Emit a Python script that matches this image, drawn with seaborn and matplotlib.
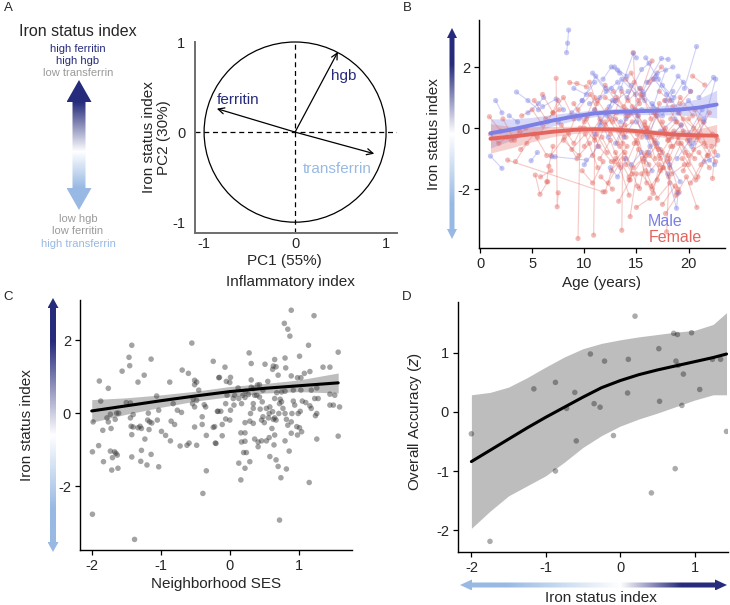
import matplotlib
matplotlib.use("Agg")
import matplotlib.pyplot as plt
import numpy as np
import pandas as pd
import seaborn as sns
from matplotlib.colors import LinearSegmentedColormap
from matplotlib.patches import Circle, Polygon

NAVY = "#262b7c"
LIGHT = "#98b9e3"
MALE = "#7b7fe6"
FEMALE = "#e3655e"

# ---- panel A: PCA loadings
pca_vars = ["hgb", "ferritin", "transferrin"]
pca_pc1 = [0.47, -0.86, 0.87]
pca_pc2 = [0.89, 0.26, -0.24]

# ---- panel B: repeated measures by subject (age, iron status index)
male_ages = [[8.3, 8.4, 8.5], [1.5, 2.1], [1.0, 2.1], [3.5, 4.6, 5.6], [4.6, 5.6, 6.1],
             [6.0, 7.3, 8.0], [6.9, 7.2, 10.2], [4.9, 5.5], [9.0, 10.2, 11.0],
             [10.5, 11.5, 12.6], [11.8, 12.6, 13.4], [12.2, 13.0, 14.2], [13.5, 14.7, 15.0],
             [14.1, 15.5, 16.2], [15.6, 17.4, 18.05], [16.0, 17.0, 18.5], [17.5, 18.6, 19.5],
             [19.6, 20.77], [21.0, 22.4], [22.0, 22.5], [17.0, 18.2, 19.2], [18.0, 18.85, 19.0],
             [15.0, 16.0, 17.0], [13.0, 14.0, 15.5], [11.0, 12.0, 13.5], [9.5, 11.0, 12.3],
             [10.0, 11.3], [14.5, 15.5, 16.5], [19.0, 20.0, 21.5], [20.5, 21.5, 22.6],
             [12.5, 13.2, 14.0], [16.5, 17.5, 18.5], [7.5, 8.8, 9.8], [2.8, 3.6],
             [18.5, 19.3, 20.3], [21.5, 22.8],
             [10.8, 12.1, 13.2], [12.4, 13.6, 14.9], [13.2, 14.5, 15.8], [14.4, 15.7, 16.9],
             [15.3, 16.6, 17.8], [16.7, 17.9, 19.1], [17.8, 19.0, 20.2], [11.5, 12.7, 14.0],
             [13.8, 15.1, 16.3], [16.2, 17.3, 18.7], [18.9, 20.1], [9.8, 11.1, 12.1],
             [12.9, 14.1], [15.9, 17.1, 18.4], [20.0, 21.3]]
male_iron = [[2.47, 2.78, 3.21], [0.9, 0.5], [-0.92, -1.32], [1.18, 0.9, 0.6], [0.5, 0.8, 1.0],
             [0.7, 0.95, 0.6], [-0.94, -0.94, -1.05], [-1.07, -0.8], [1.3, 1.1, 1.5],
             [0.8, 1.0, 1.3], [1.6, 2.0, 1.8], [0.4, 0.9, 1.2], [1.3, 2.45, 2.3],
             [1.0, 1.92, 2.12], [1.2, 2.28, 2.25], [1.5, 1.8, 2.0], [1.4, 1.0, 1.5],
             [1.3, 2.67], [1.0, 1.66], [-1.05, -1.2], [-0.5, -1.2, -1.76], [-1.5, -2.63, -2.14],
             [0.2, -0.3, 0.4], [-0.5, 0.3, 0.6], [-0.2, 0.5, 0.2], [0.3, 0.6, -0.3],
             [-1.2, -0.6], [-1.2, -0.8, -1.4], [0.5, 0.9, 0.3], [-0.5, 0.2, 1.6],
             [-1.3, -1.6, -1.0], [0.8, 0.4, 1.2], [0.2, 0.5, 0.9], [0.4, 0.2],
             [-0.2, 0.1, -0.6], [-1.1, -0.9],
             [1.8, 1.2, 1.5], [0.7, 1.6, 1.1], [1.9, 1.4, 0.9], [0.5, 1.1, 1.7],
             [1.3, 0.7, 1.9], [1.6, 1.1, 0.6], [0.9, 1.7, 1.2], [0.1, 0.9, 0.5],
             [-0.3, 0.4, -0.6], [-0.8, -0.1, 0.3], [-1.0, -0.4], [0.9, 1.7, 1.3],
             [2.0, 1.7], [2.3, 1.6, 0.9], [-0.2, 0.6]]
female_ages = [[0.9, 2.0], [7.3, 7.4, 7.5], [5.3, 5.75, 6.5], [2.65, 11.8], [3.4, 4.5],
               [9.4, 9.6], [10.9, 11.0], [6.4, 6.6, 7.0], [8.6, 9.3, 10.2], [14.7, 15.0, 15.5],
               [20.4, 21.56], [13.6, 13.7], [14.4, 15.0], [17.9, 18.2], [16.6, 17.2],
               [15.3, 16.0], [12.0, 13.0], [22.3, 22.5, 22.7], [4.0, 5.0, 6.0], [5.5, 6.5, 7.5],
               [7.0, 8.0, 9.0], [8.0, 9.5, 10.5], [9.0, 10.0, 11.0], [10.0, 11.5, 12.5],
               [11.0, 12.0, 13.0], [11.5, 12.5, 13.5], [12.0, 13.2, 14.0], [12.8, 13.8, 14.8],
               [13.0, 14.3, 15.2], [13.5, 14.5, 15.8], [14.0, 15.0, 16.0], [14.2, 15.4, 16.4],
               [14.8, 15.8, 16.8], [15.2, 16.2, 17.2], [15.5, 16.5, 17.5], [16.0, 17.0, 18.0],
               [16.3, 17.3, 18.3], [16.8, 17.8, 18.8], [17.0, 18.0, 19.0], [17.5, 18.5, 19.5],
               [18.0, 19.0, 20.0], [18.5, 19.5, 20.5], [19.0, 20.0, 21.0], [19.5, 20.5, 21.5],
               [20.0, 21.0, 22.0], [10.5, 11.2], [12.3, 13.3, 14.3], [9.8, 10.8, 11.8],
               [8.5, 9.2], [3.0, 3.8], [1.0, 1.8, 2.6], [5.8, 6.8], [6.0, 7.0],
               [14.5, 15.6, 16.6], [17.2, 18.2], [18.8, 19.8, 20.8], [15.0, 16.3], [11.2, 12.2],
               [13.0, 14.0], [15.8, 16.8, 17.8], [16.5, 17.5], [19.2, 20.2], [21.0, 22.0],
               [20.2, 21.2, 22.2], [17.5, 18.7], [12.0, 14.0], [10.0, 11.0], [13.8, 14.6],
               [10.2, 11.4, 12.6], [10.8, 12.0, 13.1], [11.3, 12.4, 13.7], [11.7, 12.9, 14.1],
               [12.2, 13.4, 14.6], [12.6, 13.9, 15.1], [13.1, 14.2, 15.3], [13.4, 14.7, 15.9],
               [13.9, 15.1, 16.2], [14.3, 15.6, 16.7], [14.6, 15.9, 17.1], [15.1, 16.1, 17.3],
               [15.4, 16.6, 17.7], [15.7, 16.9, 18.1], [16.1, 17.2, 18.4], [16.4, 17.6, 18.9],
               [16.9, 18.1, 19.3], [17.3, 18.4, 19.6], [17.7, 18.9, 20.1], [18.2, 19.3, 20.6],
               [18.6, 19.7, 20.9], [19.1, 20.3, 21.4], [19.4, 20.7, 21.8], [19.9, 21.1, 22.3],
               [20.6, 21.7, 22.6], [9.4, 10.6, 11.6], [8.8, 10.1, 11.3], [7.8, 9.0, 10.3],
               [6.8, 8.1, 9.3], [5.2, 6.3, 7.6], [3.9, 5.2, 6.4], [2.2, 3.3, 4.4],
               [14.0, 15.2, 16.5], [16.2, 17.4], [13.3, 14.4], [17.8, 19.1],
               [12.7, 13.6, 14.9], [15.9, 17.0, 18.2], [18.3, 19.2, 20.4], [11.6, 12.7],
               [20.8, 21.9, 22.8]]
female_iron = [[0.37, -0.1], [1.63, -2.58, -2.12], [-1.54, -2.17, -1.76], [-1.05, -2.09], [-1.1, -0.5],
               [-3.62, 0.0], [-3.51, -0.3], [-1.76, -1.25, -0.6], [1.49, 1.46, 1.35], [2.47, 0.5, -0.3],
               [1.70, 1.41], [-3.35, -0.2], [-2.9, -1.5], [-3.4, -1.0], [-2.14, -1.2],
               [-1.98, -0.8], [-2.09, -1.0], [-1.65, -0.78, -0.3], [0.4, 0.6, 0.1], [-0.3, 0.2, 0.9],
               [0.5, 1.0, 0.3], [-0.4, -0.9, -0.5], [0.8, 0.2, 1.0], [-0.6, 0.3, -0.2],
               [0.6, 1.4, 0.9], [-1.0, -0.4, -1.3], [0.2, -0.5, 0.4], [1.2, 0.7, 1.5],
               [-0.8, -1.6, -0.7], [0.0, 0.5, -0.2], [-1.2, -0.4, -1.8], [0.9, 1.3, 0.3],
               [-0.5, 0.1, -1.0], [0.4, -0.3, 0.8], [-1.5, -2.0, -1.3], [-0.1, 0.6, -0.4],
               [-0.9, -1.4, -0.6], [0.5, -0.2, 0.2], [-1.7, -0.9, -2.0], [0.2, -0.6, -0.1],
               [-1.1, -0.3, -0.9], [0.7, 0.3, 0.0], [-0.5, -1.2, -0.3], [-1.4, -0.7, -0.5],
               [0.3, -0.2, 0.5], [1.5, 0.8], [-1.8, -1.2, -2.2], [-1.4, -1.8, -1.1],
               [-0.2, 0.4], [-0.4, -0.1], [-0.2, -0.5, -0.3], [-1.6, -1.4], [1.1, 0.5],
               [1.8, 1.0, 1.6], [1.2, 0.9], [-2.2, -1.6, -2.6], [-2.6, -2.3], [-0.2, -0.8],
               [0.3, -0.3], [0.2, -0.5, 0.0], [-0.3, -0.8], [0.8, 1.2], [-0.8, -1.3],
               [-1.8, -1.2, -0.6], [-2.5, -1.9], [1.0, 0.6], [0.0, -0.4], [-1.0, -1.5],
               [0.3, -0.6, -1.1], [-0.9, 0.1, 0.5], [0.9, 0.3, -0.5], [-0.3, -1.1, -0.6],
               [0.6, -0.1, 0.2], [-1.4, -0.8, -1.9], [1.0, 0.4, 0.8], [-0.6, -1.3, -0.9],
               [0.1, -0.5, -1.2], [-1.7, -1.0, -0.4], [0.7, 0.0, -0.7], [-0.2, -1.5, -1.0],
               [1.1, 0.5, -0.1], [-1.1, -0.6, -1.6], [0.0, -0.9, -0.3], [-1.9, -1.3, -2.1],
               [0.4, -0.4, 0.1], [-0.7, -1.5, -1.2], [0.9, 0.2, -0.5], [-1.3, -0.5, -1.0],
               [-0.1, -0.8, -1.6], [0.5, -0.3, 0.2], [-1.0, -1.7, -0.9], [-0.4, 0.3, -0.2],
               [0.6, -0.6, -1.1], [0.6, 1.1, 0.2], [-0.7, -0.2, -1.3], [0.1, -0.5, 0.4],
               [-0.9, -0.3, -1.0], [0.9, 0.3, 0.6], [-0.7, -0.2, -0.9], [0.3, -0.4, 0.0],
               [1.6, 0.9, 2.2], [1.5, 2.0], [-2.4, -1.7], [-2.8, -2.1],
               [0.2, 1.2, 0.6], [-1.4, -2.3, -1.8], [0.3, 1.0, 0.4], [-1.6, -2.0],
               [-0.3, -0.9, -0.4]]

# smooth fits
fit_age = [1, 3, 5, 7, 9, 11, 13, 15, 17, 19, 21, 22.7]
male_fit = [-0.17, -0.05, 0.10, 0.25, 0.38, 0.48, 0.53, 0.55, 0.57, 0.60, 0.67, 0.77]
male_lo = [-0.65, -0.40, -0.15, 0.07, 0.25, 0.37, 0.43, 0.44, 0.44, 0.42, 0.40, 0.33]
male_hi = [0.30, 0.30, 0.35, 0.45, 0.52, 0.60, 0.64, 0.67, 0.72, 0.80, 0.97, 1.24]
female_fit = [-0.35, -0.28, -0.20, -0.12, -0.06, -0.04, -0.05, -0.10, -0.17, -0.22, -0.24, -0.25]
female_lo = [-0.82, -0.65, -0.45, -0.28, -0.18, -0.14, -0.14, -0.19, -0.28, -0.36, -0.46, -0.60]
female_hi = [0.14, 0.05, 0.05, 0.05, 0.06, 0.06, 0.04, -0.01, -0.06, -0.08, -0.02, 0.12]

# ---- panel C: neighborhood SES vs iron status
ses_x = [-1.42, -1.46, -1.45, -1.14, -1.56, -1.89, -1.76, -1.24, -1.33, -1.87, -1.98, -1.84,
         -1.78, -1.72, -1.73, -1.64, -1.76, -1.66, -1.61, -1.50, -1.44, -1.40, -1.44, -1.43,
         -1.42, -1.40, -1.30, -1.28, -1.33, -1.23, -1.17, -1.18, -1.19, -1.16, -1.13, -1.06,
         -1.05, -1.03, -0.99, -0.93, -0.87, -0.86, -0.85, -0.80, -0.82, -0.76, -0.70, -0.72,
         -0.69, -0.60, -0.62, -0.59, -0.55, -0.51, -0.51, -0.48, -0.45, -0.54, -0.51, -0.48,
         -0.53, -0.37, -0.35, -0.40, -0.40, -0.51, -0.48, -0.34, -0.34, -0.39, -0.24, -0.21,
         -0.24, -0.17, -1.99, -1.90, -1.83, -1.73, -1.67, -1.65, -1.63, -1.70, -1.71, -1.62,
         -1.42, -1.28, -1.29, -1.20, -1.14, -1.03, -1.99, -1.38, -0.16,
         0.89, 1.22, 0.79, 0.84, 0.87, 1.14, 1.57, 0.28, 1.01, 0.80, 0.65, 0.31, 0.51, -0.07,
         0.63, 0.67, 0.62, 0.81, 1.16, 1.35, 1.45, 1.08, 0.70, 0.89, 0.98, 1.03, -0.15, 0.01,
         0.31, -0.05, 0.00, 0.40, 0.55, 0.43, 0.12, 0.23, 0.31, 0.34, 0.48, 0.68, 0.75, 0.80,
         0.92, 1.03, 1.18, 1.26, 1.45, 1.52, -0.04, 0.07, 0.19, 0.27, 0.36, 0.05, 0.13, 0.22,
         0.43, 0.73, 0.92, 1.05, 1.23, 1.28, -0.06, 0.06, 0.17, 0.34, 0.47, 0.58, 0.72, 0.77,
         0.94, 1.10, 1.16, 1.18, 1.45, 1.50, 1.59, -0.18, -0.13, 0.01, 0.30, 0.34, 0.44, 0.53,
         0.57, 0.62, 0.65, 0.71, 0.80, 0.90, 0.99, 1.02, 1.24, 1.26, -0.06, 0.00, 0.22, 0.29,
         0.34, 0.46, 0.50, 0.56, 0.63, 0.67, 0.82, 0.84, 0.89, 0.97, 1.01, -0.22, -0.11, -0.20,
         -0.11, 0.16, 0.22, 0.17, 0.22, 0.36, 0.41, 0.46, 0.53, 0.57, 0.61, 0.65, 0.80, 0.89,
         0.98, 1.04, 1.26, 1.57, 0.41, 0.64, 0.20, 0.24, 0.29, 0.13, 0.22, 0.58, 0.67, 0.70,
         0.82, 0.86, 0.74, 1.15, 0.16, 0.72, 0.48, 0.39, 0.65, 0.75]
ses_iron = [1.86, 1.53, 1.30, 1.48, 1.15, 0.88, 0.68, 1.04, 0.85, 0.33, -0.24, -0.47,
            -0.13, -0.42, -0.03, 0.00, -0.24, -0.17, 0.00, 0.29, 0.28, -0.04, -0.13, -0.36,
            -0.59, -0.38, -0.36, -0.42, -0.40, -0.71, -0.45, 0.00, -0.19, -0.24, -0.27, 0.47,
            -0.19, 0.08, -0.50, -0.61, 0.85, -0.76, -0.22, -0.31, 0.26, 0.08, 0.02, -0.90,
            1.18, 1.09, -0.88, -0.82, 1.92, 0.90, 0.78, 0.85, 0.63, 0.26, 0.17, 0.35,
            0.39, 0.23, 0.17, -0.10, -0.31, -0.38, -0.88, -0.61, -1.58, -2.20, -0.39, -0.82,
            1.42, 0.05, -1.06, -0.89, -1.33, -1.04, -1.06, -1.10, -1.15, -1.22, -1.56, -1.51,
            -1.20, -1.02, -1.32, -1.42, -1.13, -1.47, -2.77, -3.46, 0.97,
            2.82, 2.67, 2.46, 2.30, 2.11, 1.86, 1.67, 1.65, 1.56, 1.51, 1.47, 1.36, 1.34, 1.26,
            1.29, 1.27, 1.20, 1.24, 1.14, 1.26, 1.26, 1.09, 1.04, 1.02, 0.97, 0.97, 0.98, 0.98,
            0.91, 0.87, 0.84, 0.77, 0.87, 0.78, 0.69, 0.60, 0.71, 0.67, 0.63, 0.56, 0.58, 0.60,
            0.63, 0.63, 0.63, 0.69, 0.52, 0.49, 0.49, 0.49, 0.49, 0.51, 0.49, 0.40, 0.40, 0.43,
            0.44, 0.38, 0.33, 0.33, 0.40, 0.40, 0.26, 0.22, 0.26, 0.26, 0.31, 0.17, 0.26, 0.13,
            0.22, 0.29, 0.20, 0.13, 0.22, 0.22, 0.17, 0.05, 0.05, 0.08, -0.01, 0.13, 0.11, 0.13,
            -0.01, 0.04, -0.13, -0.01, -0.01, -0.01, -0.01, 0.05, -0.07, -0.01, -0.16, -0.19, -0.26, -0.22,
            -0.28, -0.19, -0.26, -0.13, -0.17, -0.19, -0.17, -0.33, -0.24, -0.37, -0.40, -0.37, -0.31, -0.83,
            -0.62, -0.54, -0.54, -0.79, -0.77, -0.71, -0.79, -0.76, -0.76, -0.67, -0.42, -0.60, -0.76, -0.55,
            -0.60, -0.51, -0.71, -0.63, -0.92, -0.87, -1.08, -1.08, -1.33, -1.37, -1.51, -1.19, -1.28, -1.46,
            -1.53, -1.04, -1.77, -1.90, -1.83, -2.93, -0.10, 0.49, 0.40, 0.31]
ses_grid = [-2, -1.5, -1, -0.5, 0, 0.5, 1, 1.57]
ses_fit = [0.06, 0.20, 0.34, 0.47, 0.59, 0.68, 0.75, 0.83]
ses_lo = [-0.25, -0.03, 0.16, 0.33, 0.45, 0.55, 0.59, 0.55]
ses_hi = [0.37, 0.42, 0.50, 0.60, 0.73, 0.81, 0.91, 1.10]

# ---- panel D: iron status vs overall accuracy
acc_iron = [-2.00, -1.75, -1.16, -0.87, -0.87, -0.72, -0.61, -0.59, -0.40, -0.35, -0.27,
            -0.21, -0.09, 0.10, 0.11, 0.20, 0.42, 0.52, 0.53, 0.72, 0.77, 0.75, 0.74, 0.78,
            0.85, 0.83, 0.96, 1.07, 1.24, 1.35, 1.43]
acc_z = [-0.37, -2.19, 0.39, 0.50, -1.00, 0.06, 0.33, -0.49, 0.98, 0.14, 0.08,
         0.86, -0.40, 0.32, 0.89, 1.62, -1.37, 1.07, 0.18, 1.33, 1.31, 0.86, -0.96, 0.79,
         0.64, 0.11, 1.34, 0.38, 0.89, 0.89, -0.33]
acc_grid = [-2, -1.75, -1.5, -1.25, -1, -0.75, -0.5, -0.25, 0, 0.25, 0.5, 0.75, 1, 1.25, 1.43]
acc_fit = [-0.84, -0.65, -0.46, -0.27, -0.09, 0.08, 0.25, 0.41, 0.53, 0.63, 0.71, 0.78, 0.85, 0.92, 0.98]
acc_lo = [-1.97, -1.68, -1.42, -1.25, -1.08, -0.85, -0.60, -0.40, -0.24, -0.12, -0.02, 0.09, 0.20, 0.29, 0.29]
acc_hi = [0.29, 0.33, 0.42, 0.58, 0.76, 0.93, 1.07, 1.16, 1.22, 1.27, 1.31, 1.35, 1.38, 1.48, 1.68]


sns.set_style("ticks")
plt.rcParams["font.family"] = ["Liberation Sans", "DejaVu Sans"]
plt.rcParams["axes.unicode_minus"] = False

W, H = 730, 605
fig = plt.figure(figsize=(7.3, 6.05), dpi=100)


def box(x0, y0, x1, y1):
    # pixel box -> figure fraction rect
    return [x0 / W, 1 - y1 / H, (x1 - x0) / W, (y1 - y0) / H]


def style_axes(ax):
    sns.despine(ax=ax)
    for s in ["left", "bottom"]:
        ax.spines[s].set_linewidth(1.0)
        ax.spines[s].set_color("black")
    ax.tick_params(labelsize=10.5, length=3.5, width=0.9, color="black", pad=3)


# ---------- A
axA = fig.add_axes(box(195, 42, 397, 233))
axA.set_xlim(-1.1, 1.12)
axA.set_ylim(-1.12, 0.98)
axA.add_patch(Circle((0, 0), 1.0, fill=False, lw=0.9, color="black", clip_on=False))
axA.axhline(0, ls=(0, (4, 3)), lw=0.9, color="black")
axA.plot([0, 0], [-1.12, 1.0], ls=(0, (4, 3)), lw=0.9, color="black", clip_on=False)
for x, y in zip(pca_pc1, pca_pc2):
    axA.annotate("", xy=(x, y), xytext=(0, 0),
                 arrowprops=dict(arrowstyle="->", lw=0.9, color="black", mutation_scale=11,
                                 shrinkA=0, shrinkB=0))
axA.text(0.53, 0.62, pca_vars[0], color=NAVY, fontsize=11, ha="center", va="center")
axA.text(-0.63, 0.36, pca_vars[1], color=NAVY, fontsize=11, ha="center", va="center")
axA.text(0.46, -0.41, pca_vars[2], color=LIGHT, fontsize=11, ha="center", va="center")
sns.despine(ax=axA)
for s in ["left", "bottom"]:
    axA.spines[s].set_color("#6e6e6e")
    axA.spines[s].set_linewidth(1.4)
axA.set_xticks([-1, 0, 1])
axA.set_yticks([-1, 0, 1])
axA.tick_params(axis="y", length=0, labelsize=10.5, pad=7)
axA.tick_params(axis="x", length=0, labelsize=10.5, pad=3)
axA.set_ylabel("Iron status index\nPC2 (30%)", fontsize=11, linespacing=1.1)
axA.yaxis.set_label_coords(-0.12, 0.5)
axA.set_xlabel("PC1 (55%)", fontsize=11)
axA.xaxis.set_label_coords(0.44, -0.112)
fig.text(290 / W, 1 - 282 / H, "Inflammatory index", fontsize=11, ha="center", va="center")

fig.text(78 / W, 1 - 31 / H, "Iron status index", fontsize=11.5, ha="center", va="center")
for txt, yy, col in [("high ferritin", 49, NAVY), ("high hgb", 61, NAVY), ("low transferrin", 73, "#9a9a9a"),
                     ("low hgb", 219, "#9a9a9a"), ("low ferritin", 231, "#9a9a9a"),
                     ("high transferrin", 244, LIGHT)]:
    fig.text(78 / W, 1 - yy / H, txt, fontsize=8, color=col, ha="center", va="center")

# ---------- B
axB = fig.add_axes(box(479, 20, 725, 248))
rows = []
for i, (ages, vals) in enumerate(zip(female_ages, female_iron)):
    for a, v in zip(ages, vals):
        rows.append(("f%d" % i, "Female", a, v))
for i, (ages, vals) in enumerate(zip(male_ages, male_iron)):
    for a, v in zip(ages, vals):
        rows.append(("m%d" % i, "Male", a, v))
df_b = pd.DataFrame(rows, columns=["id", "sex", "age", "iron"])
pal = {"Male": MALE, "Female": FEMALE}
sns.lineplot(data=df_b, x="age", y="iron", hue="sex", units="id", estimator=None,
             palette=pal, lw=0.8, alpha=0.35, legend=False, ax=axB)
sns.scatterplot(data=df_b, x="age", y="iron", hue="sex", palette=pal, s=14, alpha=0.45,
                edgecolor="none", legend=False, ax=axB)
axB.fill_between(fit_age, male_lo, male_hi, color=MALE, alpha=0.3, lw=0)
axB.fill_between(fit_age, female_lo, female_hi, color=FEMALE, alpha=0.3, lw=0)
sns.lineplot(x=fit_age, y=male_fit, color=MALE, lw=2.8, ax=axB)
sns.lineplot(x=fit_age, y=female_fit, color=FEMALE, lw=2.8, ax=axB)
axB.text(17.8, -3.05, "Male", color=MALE, fontsize=11.5, ha="center", va="center")
axB.text(18.7, -3.6, "Female", color=FEMALE, fontsize=11.5, ha="center", va="center")
axB.set_xlim(-0.1, 23.5)
axB.set_ylim(-3.93, 3.54)
axB.set_xticks([0, 5, 10, 15, 20])
axB.set_yticks([-2, 0, 2])
style_axes(axB)
axB.set_xlabel("Age (years)", fontsize=11)
axB.xaxis.set_label_coords(0.5, -0.123)
axB.set_ylabel("Iron status index", fontsize=11)
axB.yaxis.set_label_coords(-0.155, 0.5)

# ---------- C
axC = fig.add_axes(box(80, 300, 352, 550))
axC.fill_between(ses_grid, ses_lo, ses_hi, color="#bebebe", lw=0)
sns.scatterplot(x=ses_x, y=ses_iron, color="#333333", alpha=0.45, s=16, edgecolor="none", ax=axC)
sns.lineplot(x=ses_grid, y=ses_fit, color="black", lw=2.2, ax=axC)
axC.set_xlim(-2.17, 1.77)
axC.set_ylim(-3.75, 3.1)
axC.set_xticks([-2, -1, 0, 1])
axC.set_yticks([-2, 0, 2])
style_axes(axC)
axC.set_xlabel("Neighborhood SES", fontsize=11)
axC.xaxis.set_label_coords(0.5, -0.108)
axC.set_ylabel("Iron status index", fontsize=11)
axC.yaxis.set_label_coords(-0.17, 0.5)

# ---------- D
axD = fig.add_axes(box(458, 302, 728, 552))
axD.fill_between(acc_grid, acc_lo, acc_hi, color="#bdbdbd", lw=0)
sns.scatterplot(x=acc_iron, y=acc_z, color="#000000", alpha=0.33, s=16, edgecolor="none", ax=axD)
sns.lineplot(x=acc_grid, y=acc_fit, color="black", lw=2.2, ax=axD)
axD.set_xlim(-2.18, 1.45)
axD.set_ylim(-2.37, 1.86)
axD.set_xticks([-2, -1, 0, 1])
axD.set_yticks([-2, -1, 0, 1])
style_axes(axD)
axD.set_xlabel("Iron status index", fontsize=11)
axD.xaxis.set_label_coords(0.53, -0.158)
axD.set_ylabel("Overall Accuracy ($z$)", fontsize=11)
axD.yaxis.set_label_coords(-0.126, 0.52)

# ---------- gradient arrows + panel letters (overlay in pixel coords)
ov = fig.add_axes([0, 0, 1, 1])
ov.set_facecolor("none")


def grad_arrow(ax, x, a0, a1, shaft, head_w, head_len, white, vertical=True):
    # a0 = light end, a1 = navy end (pixel coords)
    cmap = LinearSegmentedColormap.from_list(
        "iron", [(0, LIGHT), (0.17, LIGHT), (white, "white"), (0.83, NAVY), (1, NAVY)])
    d = 1 if a1 > a0 else -1
    hw, sw, hl = head_w / 2, shaft / 2, head_len * d
    along = [a1, a1 - hl, a1 - hl, a0 + hl, a0 + hl, a0, a0 + hl, a0 + hl, a1 - hl, a1 - hl]
    across = [0, hw, sw, sw, hw, 0, -hw, -sw, -sw, -hw]
    if vertical:
        pts = [(x + c, a) for a, c in zip(along, across)]
        img = np.linspace(0, 1, 256)[:, None]
        ext = [x - hw, x + hw, a0, a1]
    else:
        pts = [(a, x + c) for a, c in zip(along, across)]
        img = np.linspace(0, 1, 256)[None, :]
        ext = [a0, a1, x + hw, x - hw]
    poly = Polygon(pts, closed=True, fc="none", ec="none")
    ax.add_patch(poly)
    im = ax.imshow(img, extent=ext, cmap=cmap, aspect="auto", origin="lower")
    im.set_clip_path(poly)


grad_arrow(ov, 79, 210, 80, 13, 25, 22, 0.45)
grad_arrow(ov, 452, 239, 28, 5, 10, 10, 0.5)
grad_arrow(ov, 53, 552, 298, 6, 11, 10, 0.46)
grad_arrow(ov, 585, 460, 727, 5, 11, 12, 0.6, vertical=False)

ov.set_xlim(0, W)
ov.set_ylim(H, 0)
ov.axis("off")

for lab, x, y in [("A", 8, 8), ("B", 407, 8), ("C", 8, 297), ("D", 407, 297)]:
    fig.text(x / W, 1 - y / H, lab, fontsize=9.5, ha="center", va="center")

fig.savefig("out.png", dpi=100)
